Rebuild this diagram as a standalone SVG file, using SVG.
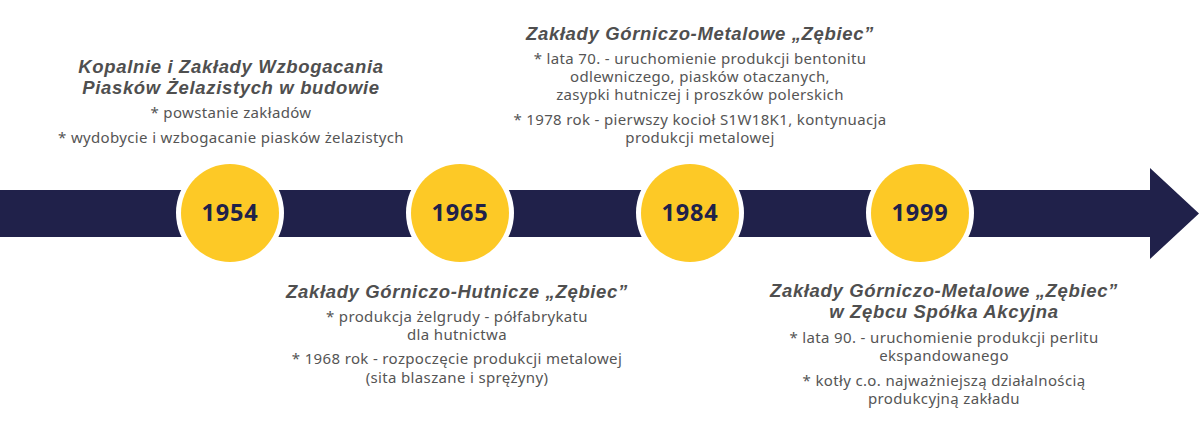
<svg xmlns="http://www.w3.org/2000/svg" width="1200" height="422" viewBox="0 0 1200 422">
<style>
.t{font-family:"Liberation Sans",Arial,sans-serif;font-weight:700;font-style:italic;font-size:18.5px;letter-spacing:0.65px;fill:#4f4f4f;text-anchor:middle}
.b{font-family:"Noto Sans","Open Sans",sans-serif;font-size:15px;letter-spacing:0.35px;fill:#555555;text-anchor:middle}
.y{font-family:"Noto Sans","Open Sans",sans-serif;font-weight:700;font-size:23.5px;letter-spacing:0.8px;fill:#20214a;text-anchor:middle}
.ring{fill:#ffffff}
.dot{fill:#fdc926}
</style>
<rect width="1200" height="422" fill="#ffffff"/>
<g id="connectors">
<path d="M0 190 H1150 V168 L1199 213.5 L1150 259 V237 H0 Z" fill="#20214a"/>
</g>
<g id="node-1954">
<circle class="ring" cx="230" cy="213" r="54"/>
<circle class="dot" cx="230" cy="213" r="49"/>
<text class="y" x="230" y="221">1954</text>
</g>
<g id="node-1965">
<circle class="ring" cx="460" cy="213" r="54"/>
<circle class="dot" cx="460" cy="213" r="49"/>
<text class="y" x="460" y="221">1965</text>
</g>
<g id="node-1984">
<circle class="ring" cx="690" cy="213" r="54"/>
<circle class="dot" cx="690" cy="213" r="49"/>
<text class="y" x="690" y="221">1984</text>
</g>
<g id="node-1999">
<circle class="ring" cx="920" cy="213" r="54"/>
<circle class="dot" cx="920" cy="213" r="49"/>
<text class="y" x="920" y="221">1999</text>
</g>
<g id="label-1954">
<text class="t" x="231" y="73">Kopalnie i Zakłady Wzbogacania</text>
<text class="t" x="231" y="94">Piasków Żelazistych w budowie</text>
<text class="b" x="231" y="118">* powstanie zakładów</text>
<text class="b" x="231" y="143">* wydobycie i wzbogacanie piasków żelazistych</text>
</g>
<g id="label-1965">
<text class="t" x="457" y="298">Zakłady Górniczo-Hutnicze „Zębiec”</text>
<text class="b" x="457" y="322">* produkcja żelgrudy - półfabrykatu</text>
<text class="b" x="457" y="340">dla hutnictwa</text>
<text class="b" x="457" y="364">* 1968 rok - rozpoczęcie produkcji metalowej</text>
<text class="b" x="457" y="383">(sita blaszane i sprężyny)</text>
</g>
<g id="label-1984">
<text class="t" x="700" y="40">Zakłady Górniczo-Metalowe „Zębiec”</text>
<text class="b" x="700" y="64">* lata 70. - uruchomienie produkcji bentonitu</text>
<text class="b" x="700" y="82">odlewniczego, piasków otaczanych,</text>
<text class="b" x="700" y="100">zasypki hutniczej i proszków polerskich</text>
<text class="b" x="700" y="125">* 1978 rok - pierwszy kocioł S1W18K1, kontynuacja</text>
<text class="b" x="700" y="143">produkcji metalowej</text>
</g>
<g id="label-1999">
<text class="t" x="944" y="297">Zakłady Górniczo-Metalowe „Zębiec”</text>
<text class="t" x="944" y="318">w Zębcu Spółka Akcyjna</text>
<text class="b" x="944" y="343">* lata 90. - uruchomienie produkcji perlitu</text>
<text class="b" x="944" y="361">ekspandowanego</text>
<text class="b" x="944" y="386">* kotły c.o. najważniejszą działalnością</text>
<text class="b" x="944" y="404">produkcyjną zakładu</text>
</g>
</svg>
